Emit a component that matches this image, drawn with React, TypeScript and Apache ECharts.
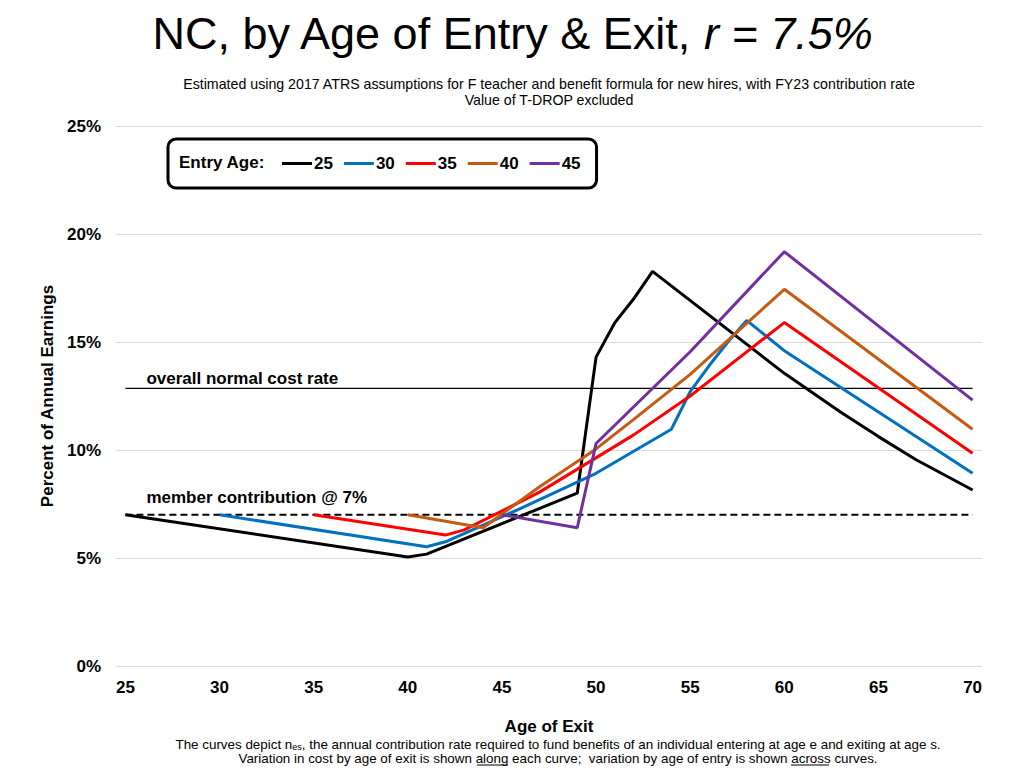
import * as echarts from 'echarts';
import React, { useEffect, useRef } from 'react';

// 퇴직 연령(x)과 기여율(%) - 꺾이는 지점만 읽어 옴
const entryAges = ['25', '30', '35', '40', '45'];
const seriesColors = ['#000000', '#0070C0', '#FF0000', '#C55A11', '#7030A0'];

const exitAges25 = [25, 40, 41, 49, 50, 51, 52, 53, 60, 63, 65, 67, 70];
const rates25 = [7.0, 5.05, 5.18, 8.0, 14.3, 15.9, 17.0, 18.27, 13.55, 11.75, 10.62, 9.55, 8.15];

const exitAges30 = [30, 41, 42, 46, 50, 54, 55, 56, 57, 58, 60, 70];
const rates30 = [7.0, 5.52, 5.75, 7.3, 8.92, 10.96, 12.7, 13.9, 15.0, 16.0, 14.6, 8.92];

const exitAges35 = [35, 42, 43, 47, 52, 55, 60, 70];
const rates35 = [7.0, 6.06, 6.3, 8.05, 10.7, 12.5, 15.9, 9.85];

const exitAges40 = [40, 44, 47, 50, 52, 55, 60, 70];
const rates40 = [7.0, 6.4, 8.3, 10.05, 11.42, 13.5, 17.44, 10.96];

const exitAges45 = [45, 49, 50, 55, 60, 70];
const rates45 = [7.0, 6.4, 10.3, 14.55, 19.18, 12.31];

const refAges = [25, 70];
const normalCostRate = 12.85;
const memberRate = 7;

const xTickLabels = [25, 30, 35, 40, 45, 50, 55, 60, 65, 70];

const FONT = '"Liberation Sans", Arial, sans-serif';

const zip = (xs: number[], ys: number[]) => xs.map((x, i) => [x, ys[i]]);

export default function App() {
  const chartRef = useRef<HTMLDivElement>(null);

  useEffect(() => {
    if (!chartRef.current) return;
    const chart = echarts.init(chartRef.current, null, { renderer: 'svg' });

    const curves = [
      zip(exitAges25, rates25),
      zip(exitAges30, rates30),
      zip(exitAges35, rates35),
      zip(exitAges40, rates40),
      zip(exitAges45, rates45),
    ];

    const refLabel = (text: string, dy: number) => ({
      show: true,
      position: [21, dy],
      formatter: text,
      color: '#000',
      fontFamily: FONT,
      fontWeight: 'bold',
      fontSize: 17,
      align: 'left',
      verticalAlign: 'middle',
    });

    const option = {
      animation: false,
      textStyle: { fontFamily: FONT },
      title: [
        {
          text: '{a|NC, by Age of Entry & Exit, }{b|r = 7.5%}',
          left: 'center',
          top: 6,
          textStyle: {
            rich: {
              a: { fontFamily: FONT, fontSize: 45, fontWeight: 'normal', color: '#000' },
              b: { fontFamily: FONT, fontSize: 45, fontWeight: 'normal', color: '#000', fontStyle: 'italic' },
            },
          },
        },
        {
          text:
            'Estimated using 2017 ATRS assumptions for F teacher and benefit formula for new hires, with FY23 contribution rate\nValue of T-DROP excluded',
          left: 544,
          top: 71,
          textAlign: 'center',
          textStyle: { fontFamily: FONT, fontSize: 14.2, fontWeight: 'normal', color: '#000', lineHeight: 16 },
        },
        {
          text:
            '{t|The curves depict n}{s|es}{t|, the annual contribution rate required to fund benefits of an individual entering at age e and exiting at age s.}\n{t|Variation in cost by age of exit is shown along each curve;  variation by age of entry is shown across curves.}',
          left: 553,
          top: 732,
          textAlign: 'center',
          textStyle: {
            rich: {
              t: { fontFamily: FONT, fontSize: 13.4, fontWeight: 'normal', color: '#000', lineHeight: 14 },
              s: { fontFamily: FONT, fontSize: 9, fontWeight: 'normal', color: '#000', lineHeight: 14, verticalAlign: 'bottom' },
            },
          },
        },
      ],
      legend: {
        left: 168,
        top: 139,
        data: entryAges,
        orient: 'horizontal',
        icon: 'rect',
        borderColor: '#000',
        borderWidth: 3,
        borderRadius: 8,
        padding: [16, 16, 16, 114],
        itemGap: 11,
        itemWidth: 30,
        itemHeight: 3,
        textStyle: { fontFamily: FONT, fontWeight: 'bold', fontSize: 17, color: '#000', padding: [0, 0, 0, -3] },
      },
      graphic: [
        {
          type: 'text',
          left: 179,
          top: 154,
          style: { text: 'Entry Age:', font: `bold 17px ${FONT}`, fill: '#000' },
        },
        {
          type: 'line',
          shape: { x1: 477, y1: 765, x2: 508, y2: 765 },
          style: { stroke: '#000', lineWidth: 1 },
        },
        {
          type: 'line',
          shape: { x1: 791, y1: 765, x2: 829, y2: 765 },
          style: { stroke: '#000', lineWidth: 1 },
        },
      ],
      grid: { left: 116, right: 42, top: 126, bottom: 102, containLabel: false },
      xAxis: {
        type: 'value',
        min: 24.5,
        max: 70.5,
        name: 'Age of Exit',
        nameLocation: 'middle',
        nameGap: 52,
        nameTextStyle: { fontFamily: FONT, fontWeight: 'bold', fontSize: 17, color: '#000' },
        axisLine: { show: false },
        axisTick: { show: false },
        splitLine: { show: false },
        axisLabel: {
          customValues: xTickLabels,
          margin: 13,
          fontFamily: FONT,
          fontWeight: 'bold',
          fontSize: 17,
          color: '#000',
        },
      },
      yAxis: {
        type: 'value',
        min: 0,
        max: 25,
        interval: 5,
        name: 'Percent of Annual Earnings',
        nameLocation: 'middle',
        nameGap: 53,
        nameTextStyle: { fontFamily: FONT, fontWeight: 'bold', fontSize: 17, color: '#000' },
        axisLine: { show: false },
        axisTick: { show: false },
        splitLine: { lineStyle: { color: '#D9D9D9', width: 1 } },
        axisLabel: {
          formatter: '{value}%',
          margin: 15,
          fontFamily: FONT,
          fontWeight: 'bold',
          fontSize: 17,
          color: '#000',
        },
      },
      series: [
        {
          name: 'normal cost',
          type: 'line',
          data: [
            { value: [refAges[0], normalCostRate], label: refLabel('overall normal cost rate', -10) },
            [refAges[1], normalCostRate],
          ],
          symbol: 'circle',
          symbolSize: 0,
          lineStyle: { color: '#000', width: 1.2 },
          itemStyle: { color: '#000' },
          silent: true,
          z: 1,
        },
        {
          name: 'member',
          type: 'line',
          data: [
            { value: [refAges[0], memberRate], label: refLabel('member contribution @ 7%', -17) },
            [refAges[1], memberRate],
          ],
          symbol: 'circle',
          symbolSize: 0,
          lineStyle: { color: '#000', width: 2, type: [7, 4] },
          itemStyle: { color: '#000' },
          silent: true,
          z: 1,
        },
        ...curves.map((data, i) => ({
          name: entryAges[i],
          type: 'line',
          data,
          symbol: 'none',
          color: seriesColors[i],
          lineStyle: { color: seriesColors[i], width: 3 },
          z: 2 + i,
        })),
      ],
    };

    chart.setOption(option);

    return () => {
      chart.dispose();
    };
  }, []);

  return (
    <div
      ref={chartRef}
      style={{ position: 'fixed', left: 0, top: 0, width: 1024, height: 768, background: '#fff' }}
    ></div>
  );
}
